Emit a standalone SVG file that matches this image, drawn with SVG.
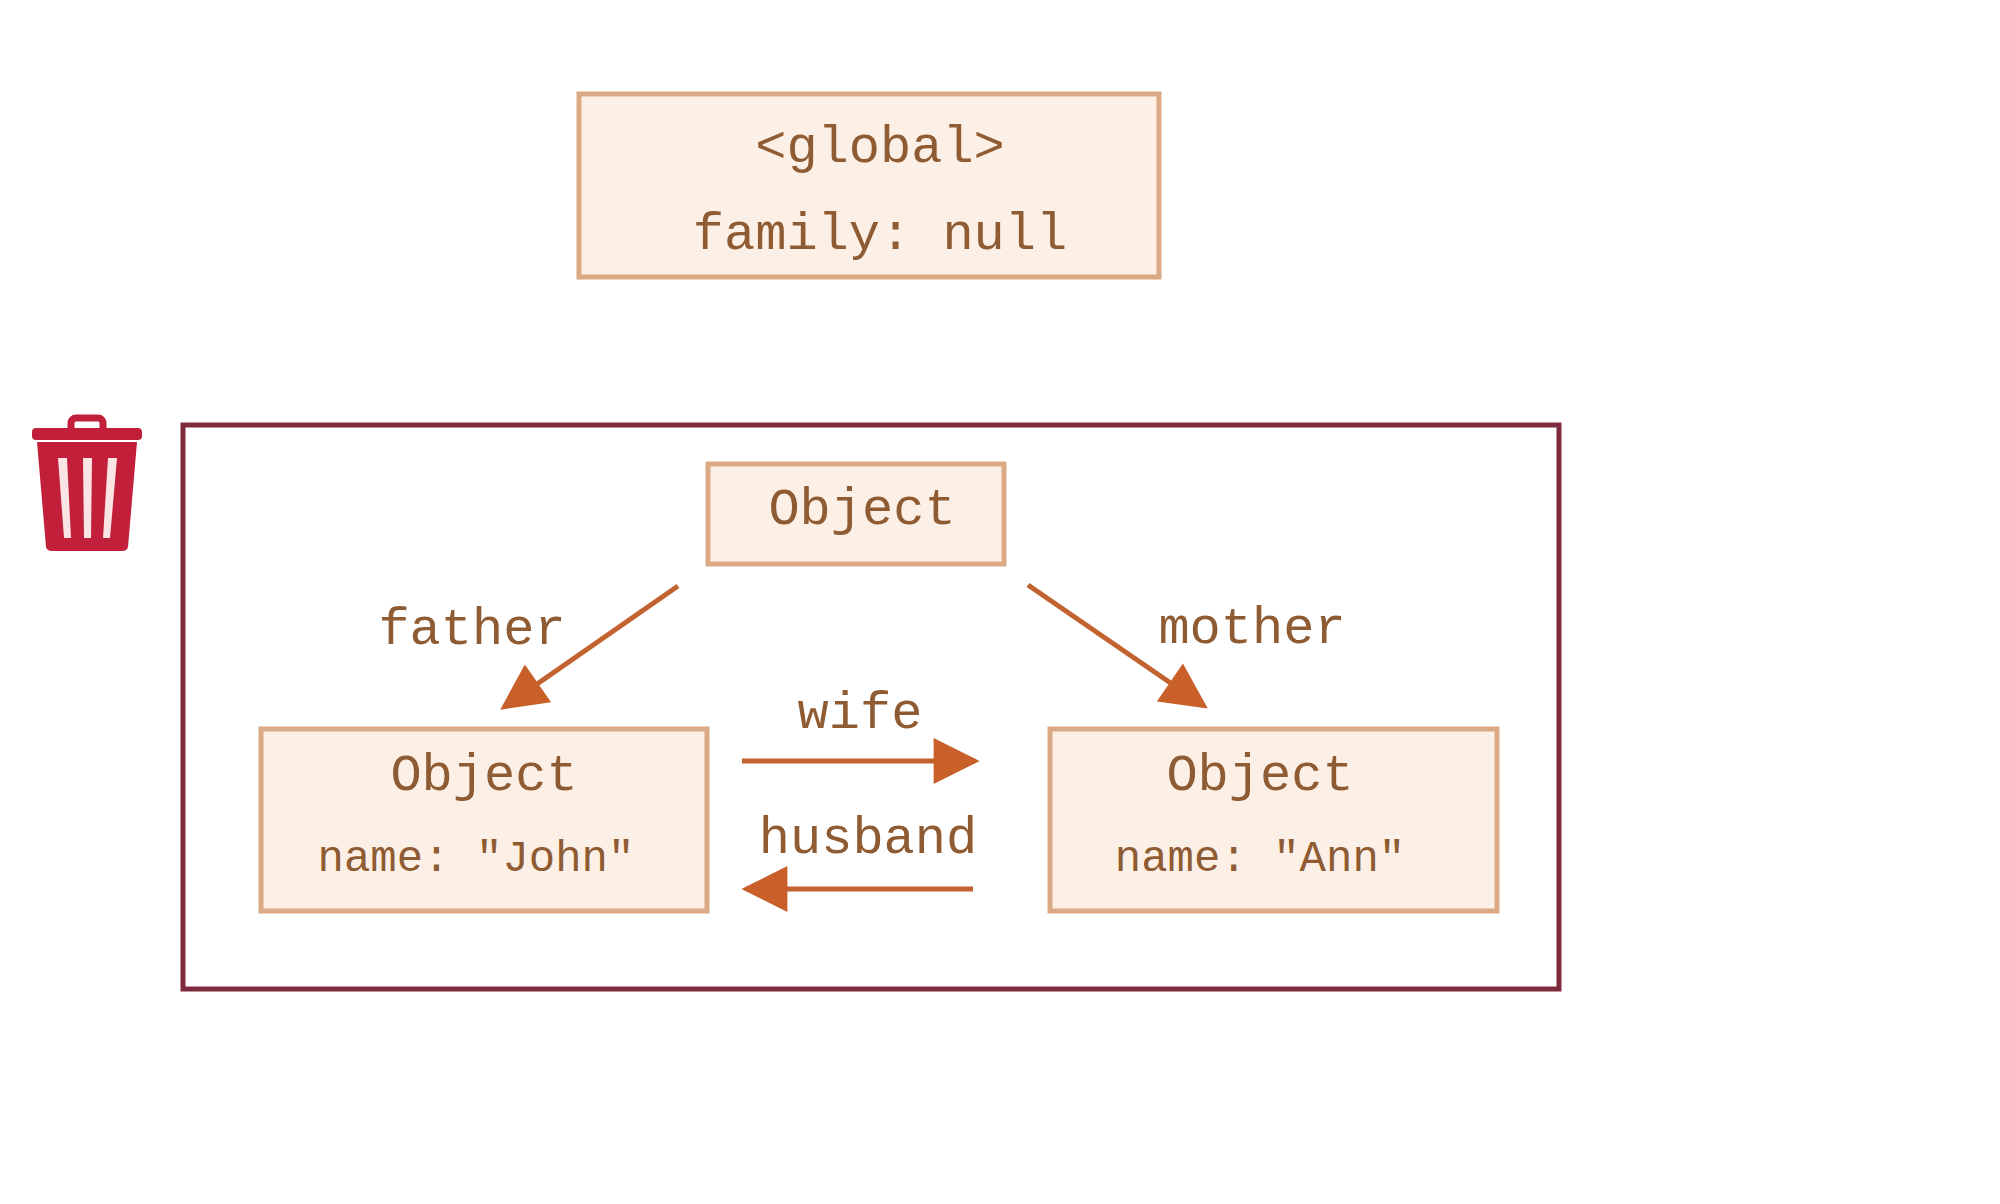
<svg xmlns="http://www.w3.org/2000/svg" width="2000" height="1204" viewBox="0 0 2000 1204">
  <style>
    .box { fill: #fcf0e6; stroke: #dca985; stroke-width: 5; }
    .t { font-family: "Liberation Mono", "DejaVu Sans Mono", monospace; fill: #8f5b32; text-anchor: middle; }
    .big { font-size: 52px; }
    .small { font-size: 44px; }
    .arrow { stroke: #c2622f; stroke-width: 5; fill: none; marker-end: url(#ah); }
  </style>
  <defs>
    <marker id="ah" viewBox="0 0 10 10" refX="9" refY="5" markerUnits="userSpaceOnUse" markerWidth="50" markerHeight="46" orient="auto">
      <path d="M0,0 L10,5 L0,10 Z" fill="#c9602a"/>
    </marker>
  </defs>
  <rect width="2000" height="1204" fill="#ffffff"/>

  <g id="global">
    <rect class="box" x="579" y="94" width="580" height="183"/>
    <text class="t big" x="880" y="162">&lt;global&gt;</text>
    <text class="t big" x="880" y="249">family: null</text>
  </g>

  <g id="trash">
    <rect x="71" y="418" width="32" height="16" rx="5" fill="none" stroke="#c21f3a" stroke-width="7"/>
    <rect x="32" y="428" width="110" height="12" rx="4" fill="#c21f3a"/>
    <path d="M37,442 L137,442 L128,547 Q127,551 122,551 L52,551 Q47,551 46,547 Z" fill="#c21f3a"/>
    <path d="M58,458 L67,458 L71,538 L64,538 Z" fill="#fbe4e4"/>
    <path d="M83,458 L92,458 L91,538 L84,538 Z" fill="#fbe4e4"/>
    <path d="M108,458 L117,458 L110,538 L103,538 Z" fill="#fbe4e4"/>
  </g>

  <g id="unreachable">
    <rect x="183" y="425" width="1376" height="564" fill="none" stroke="#7e2b3d" stroke-width="5"/>
  </g>

  <g id="object-top">
    <rect class="box" x="708" y="464" width="296" height="100"/>
    <text class="t big" x="862" y="524">Object</text>
  </g>

  <g id="object-john">
    <rect class="box" x="261" y="729" width="446" height="182"/>
    <text class="t big" x="484" y="790">Object</text>
    <text class="t small" x="476" y="871">name: "John"</text>
  </g>

  <g id="object-ann">
    <rect class="box" x="1050" y="729" width="447" height="182"/>
    <text class="t big" x="1260" y="790">Object</text>
    <text class="t small" x="1260" y="871">name: "Ann"</text>
  </g>

  <g id="connectors">
    <line class="arrow" x1="678" y1="586" x2="504" y2="707"/>
    <line class="arrow" x1="1028" y1="585" x2="1204" y2="706"/>
    <line class="arrow" x1="742" y1="761" x2="975" y2="761"/>
    <line class="arrow" x1="973" y1="889" x2="746" y2="889"/>
    <text class="t big" x="472" y="644">father</text>
    <text class="t big" x="1252" y="643">mother</text>
    <text class="t big" x="860" y="728">wife</text>
    <text class="t big" x="868" y="853">husband</text>
  </g>
</svg>
